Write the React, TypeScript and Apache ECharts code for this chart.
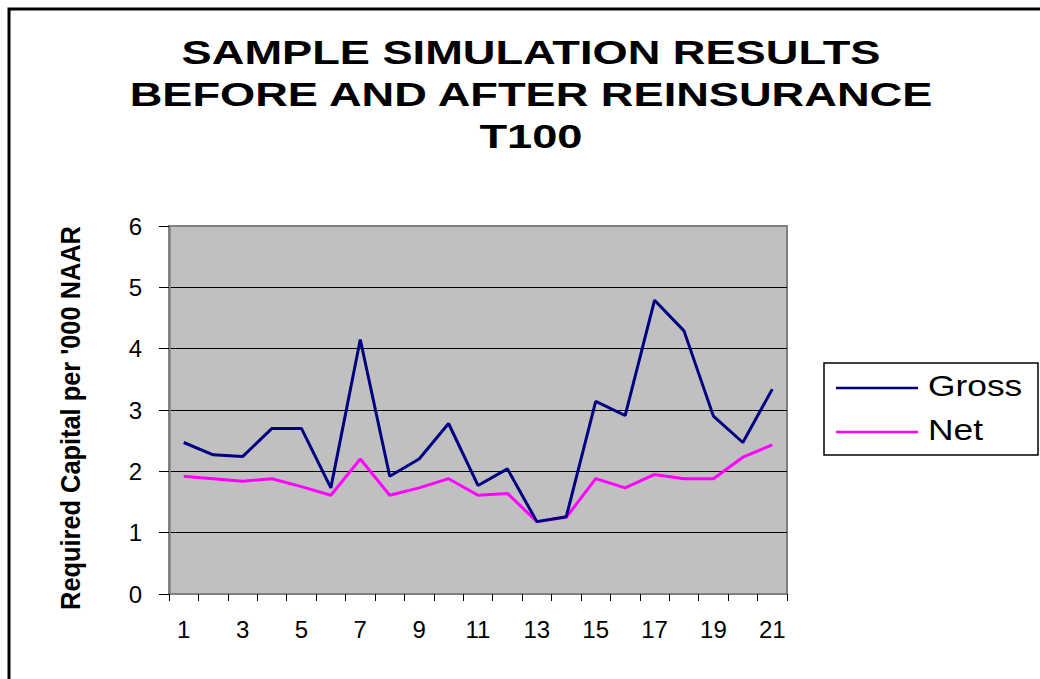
import React, { useEffect, useRef } from "react";
import * as echarts from "echarts";

const categories = ["1","2","3","4","5","6","7","8","9","10","11","12","13","14","15","16","17","18","19","20","21"];
const grossValues = [2.47, 2.27, 2.24, 2.70, 2.70, 1.73, 4.15, 1.92, 2.20, 2.78, 1.77, 2.04, 1.18, 1.26, 3.14, 2.91, 4.79, 4.29, 2.90, 2.47, 3.34];
const netValues = [1.92, 1.88, 1.84, 1.88, 1.75, 1.61, 2.20, 1.61, 1.73, 1.88, 1.61, 1.64, 1.18, 1.25, 1.88, 1.73, 1.95, 1.88, 1.88, 2.23, 2.43];
const titleLines = ["SAMPLE SIMULATION RESULTS", "BEFORE AND AFTER REINSURANCE", "T100"];
const yAxisName = "Required Capital per '000 NAAR";
const seriesNames = ["Gross", "Net"];
const seriesColors = ["#000080", "#FF00FF"];

const FONT = "Liberation Sans, Arial, sans-serif";

export default function App() {
  const ref = useRef<HTMLDivElement>(null);
  useEffect(() => {
    document.body.style.margin = "0";
    document.documentElement.style.overflow = "hidden";
    const chart = echarts.init(ref.current!, null, { renderer: "svg" });
    const titleYs = [52, 94, 136];
    const graphics: any[] = [
      {
        type: "polyline",
        shape: { points: [[9, 700], [9, 9], [1100, 9]] },
        style: { stroke: "#000", lineWidth: 3, fill: null },
        silent: true,
      },
      ...titleLines.map((t, i) => ({
        type: "text",
        x: 531,
        y: titleYs[i],
        scaleX: 1.37,
        style: {
          text: t,
          fontFamily: FONT,
          fontWeight: "bold",
          fontSize: 33,
          fill: "#000",
          textAlign: "center",
          textVerticalAlign: "middle",
        },
      })),
      {
        type: "text",
        x: 71,
        y: 418,
        rotation: Math.PI / 2,
        scaleX: 0.94,
        style: {
          text: yAxisName,
          fontFamily: FONT,
          fontWeight: "bold",
          fontSize: 27,
          fill: "#000",
          textAlign: "center",
          textVerticalAlign: "middle",
        },
      },
      {
        type: "rect",
        shape: { x: 824, y: 363, width: 214, height: 92 },
        style: { fill: "#fff", stroke: "#000", lineWidth: 1.5 },
      },
      ...seriesNames.map((n, i) => ({
        type: "line",
        shape: { x1: 836, y1: 388 + i * 44, x2: 918, y2: 388 + i * 44 },
        style: { stroke: seriesColors[i], lineWidth: 2.5 },
      })),
      ...seriesNames.map((n, i) => ({
        type: "text",
        x: 928,
        y: 386 + i * 44,
        scaleX: 1.22,
        style: {
          text: n,
          fontFamily: FONT,
          fontSize: 29,
          fill: "#000",
          textAlign: "left",
          textVerticalAlign: "middle",
        },
      })),
    ];
    chart.setOption({
      animation: false,
      backgroundColor: "#fff",
      grid: {
        left: 169,
        right: 253,
        top: 226,
        bottom: 85,
        show: true,
        backgroundColor: "#C0C0C0",
        borderColor: "#808080",
        borderWidth: 2,
      },
      xAxis: {
        type: "category",
        data: categories,
        boundaryGap: true,
        axisLine: { show: true, lineStyle: { color: "#808080", width: 2 } },
        axisTick: { show: true, interval: 0, length: 7, lineStyle: { color: "#000", width: 1 } },
        axisLabel: {
          interval: 1,
          margin: 23,
          fontSize: 24,
          fontFamily: FONT,
          color: "#000",
        },
        splitLine: { show: false },
      },
      yAxis: {
        type: "value",
        min: 0,
        max: 6,
        interval: 1,
        axisLine: { show: true, lineStyle: { color: "#808080", width: 2.5 } },
        axisTick: { show: true, length: 10, lineStyle: { color: "#000", width: 1 } },
        axisLabel: {
          margin: 27,
          fontSize: 24,
          fontFamily: FONT,
          color: "#000",
        },
        splitLine: {
          show: true,
          showMinLine: false,
          showMaxLine: false,
          lineStyle: { color: "#000", width: 1 },
        },
      },
      series: [
        {
          name: seriesNames[0],
          type: "line",
          data: grossValues,
          symbol: "none",
          lineStyle: { color: seriesColors[0], width: 3 },
          itemStyle: { color: seriesColors[0] },
          z: 3,
        },
        {
          name: seriesNames[1],
          type: "line",
          data: netValues,
          symbol: "none",
          lineStyle: { color: seriesColors[1], width: 3 },
          itemStyle: { color: seriesColors[1] },
          z: 2,
        },
      ],
      graphic: graphics,
    });
    return () => chart.dispose();
  }, []);
  return <div ref={ref} style={{ width: 1040, height: 679 }} />;
}
